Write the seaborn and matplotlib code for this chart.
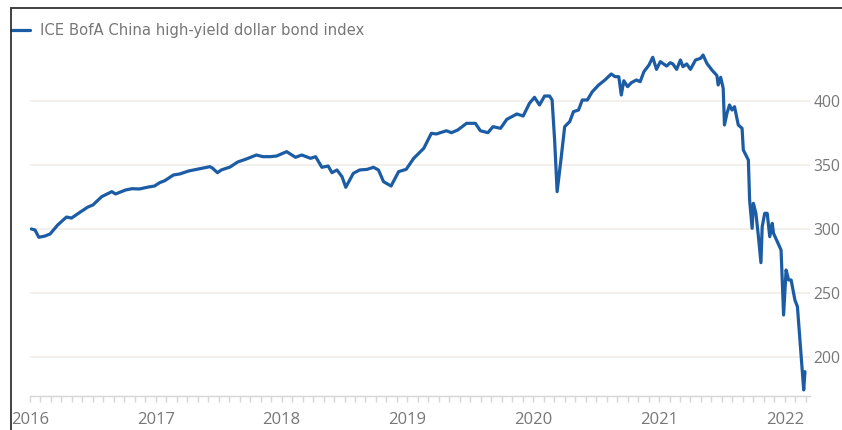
import pandas as pd
import seaborn as sns
import matplotlib.pyplot as plt
from matplotlib.lines import Line2D
from matplotlib.ticker import MultipleLocator, FixedLocator

sns.set_style("white")
plt.rcParams["font.family"] = ["Open Sans", "DejaVu Sans"]

# valores (ano decimal, nível do índice)
anos = [2016.01, 2016.04, 2016.07, 2016.12, 2016.16, 2016.22, 2016.29, 2016.33, 2016.40, 2016.46,
        2016.50, 2016.57, 2016.65, 2016.68, 2016.76, 2016.81, 2016.87, 2016.94, 2016.99, 2017.03,
        2017.07, 2017.14, 2017.19, 2017.26, 2017.35, 2017.43, 2017.45, 2017.49, 2017.52, 2017.59,
        2017.65, 2017.72, 2017.80, 2017.85, 2017.91, 2017.96, 2018.04, 2018.11, 2018.16, 2018.23,
        2018.27, 2018.32, 2018.37, 2018.40, 2018.44, 2018.48, 2018.51, 2018.57, 2018.62, 2018.68,
        2018.73, 2018.77, 2018.81, 2018.87, 2018.93, 2018.99, 2019.05, 2019.13, 2019.19, 2019.23,
        2019.31, 2019.35, 2019.40, 2019.47, 2019.54, 2019.58, 2019.64, 2019.68, 2019.74, 2019.79,
        2019.87, 2019.92, 2019.97, 2020.01, 2020.05, 2020.09, 2020.13, 2020.15, 2020.17, 2020.19,
        2020.22, 2020.25, 2020.29, 2020.32, 2020.36, 2020.39, 2020.43, 2020.47, 2020.52, 2020.57,
        2020.62, 2020.65, 2020.68, 2020.70, 2020.72, 2020.75, 2020.78, 2020.82, 2020.85, 2020.88,
        2020.92, 2020.95, 2020.98, 2021.01, 2021.06, 2021.09, 2021.11, 2021.14, 2021.17, 2021.19,
        2021.22, 2021.25, 2021.29, 2021.33, 2021.35, 2021.38, 2021.42, 2021.46, 2021.47, 2021.49,
        2021.51, 2021.52, 2021.54, 2021.56, 2021.58, 2021.60, 2021.63, 2021.66, 2021.67, 2021.69,
        2021.71, 2021.72, 2021.74, 2021.75, 2021.77, 2021.79, 2021.81, 2021.82, 2021.84, 2021.86,
        2021.88, 2021.90, 2021.91, 2021.94, 2021.97, 2021.99, 2022.01, 2022.03, 2022.05, 2022.08,
        2022.10, 2022.15, 2022.16]
indice = [300.2, 299.4, 293.7, 294.7, 296.3, 303.3, 309.5, 308.7, 313.4, 317.3,
          318.9, 325.4, 329.3, 327.5, 330.6, 331.6, 331.4, 332.9, 333.7, 336.3,
          337.8, 342.3, 343.1, 345.4, 347.2, 348.8, 347.7, 344.1, 346.2, 348.5,
          352.4, 354.8, 357.9, 356.6, 356.6, 357.1, 360.5, 356.1, 357.9, 355.3,
          356.6, 348.3, 349.3, 344.1, 346.2, 341.0, 332.7, 343.6, 346.2, 346.7,
          348.3, 346.2, 337.1, 333.7, 344.9, 346.7, 355.3, 363.1, 374.8, 374.3,
          376.8, 375.3, 377.4, 382.6, 382.6, 376.8, 375.3, 380.0, 378.7, 385.7,
          389.9, 388.3, 398.2, 402.9, 396.9, 403.9, 403.9, 400.8, 369.6, 329.3,
          354.0, 380.0, 383.9, 391.7, 393.0, 400.8, 400.8, 407.3, 412.5, 416.4,
          421.1, 419.0, 419.0, 404.7, 415.8, 411.2, 414.3, 416.4, 415.1, 422.9,
          428.1, 434.1, 424.7, 430.7, 427.3, 429.9, 428.9, 424.7, 432.0, 426.8,
          428.9, 424.7, 432.0, 433.3, 435.9, 429.4, 424.2, 419.9, 412.5, 418.5,
          409.9, 381.3, 390.4, 396.9, 393.0, 395.6, 381.3, 378.7, 361.8, 357.9,
          354.0, 322.8, 300.7, 320.2, 312.4, 294.2, 273.9, 302.0, 312.4, 312.4,
          294.2, 304.6, 296.8, 290.3, 283.8, 233.1, 268.2, 260.4, 260.4, 244.8,
          239.6, 174.6, 188.9]
serie = "ICE BofA China high-yield dollar bond index"
anos_rotulo = [2016, 2017, 2018, 2019, 2020, 2021, 2022]
niveis = [200, 250, 300, 350, 400]

df = pd.DataFrame({"ano": anos, "indice": indice})

W, H = 842, 430
fig = plt.figure(figsize=(W / 100, H / 100), dpi=100)
ax = fig.add_axes([30 / W, 1 - 396 / H, 780 / W, 346 / H])

azul = "#1c5ca5"
cinza = "#777777"
sns.lineplot(data=df, x="ano", y="indice", ax=ax, color=azul, linewidth=2.3,
             sort=False, estimator=None, label=serie)

ax.set_xlim(2016.0, 2022.2)
ax.set_ylim(169.9, 439.8)
ax.set_xlabel("")
ax.set_ylabel("")

for lado in ["left", "top", "right"]:
    ax.spines[lado].set_visible(False)
ax.spines["bottom"].set_color("#d6d6d6")
ax.spines["bottom"].set_linewidth(1.0)

ax.xaxis.set_major_locator(FixedLocator(anos_rotulo))
ax.xaxis.set_minor_locator(MultipleLocator(1 / 12))
ax.set_xticklabels([str(a) for a in anos_rotulo])
ax.tick_params(axis="x", which="both", direction="out", color="#d6d6d6",
               length=4.5, width=1.0, bottom=True, labelsize=12, labelcolor=cinza, pad=7)

ax.yaxis.tick_right()
ax.set_yticks(niveis)
ax.set_yticklabels([str(v) for v in niveis])
ax.tick_params(axis="y", length=0, labelsize=11.3, labelcolor=cinza, pad=2.5)
ax.grid(axis="y", color="#f1ece6", linewidth=1.2)
ax.grid(axis="x", visible=False)

ax.legend(loc="center left", bbox_to_anchor=(11 / W, 1 - 31 / H), bbox_transform=fig.transFigure,
          frameon=False, borderpad=0, borderaxespad=0, handlelength=1.3, handletextpad=0.68,
          prop={"family": ["DejaVu Sans"], "size": 10.7}, labelcolor=cinza)

# moldura do recorte original
fig.add_artist(Line2D([10.5 / W, 10.5 / W], [0, 1 - 8 / H], transform=fig.transFigure,
                      color="#333333", linewidth=1.3))
fig.add_artist(Line2D([10.5 / W, 1], [1 - 8 / H, 1 - 8 / H], transform=fig.transFigure,
                      color="#333333", linewidth=1.3))

fig.savefig("out.png", dpi=100)
